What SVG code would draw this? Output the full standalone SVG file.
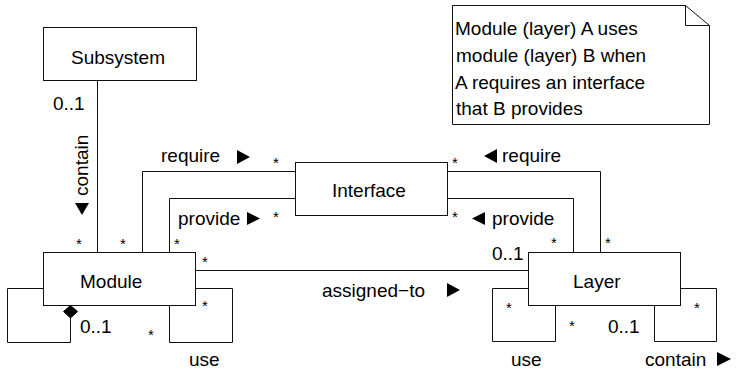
<svg xmlns="http://www.w3.org/2000/svg" width="737" height="370" viewBox="0 0 737 370">
<style>
  .box{fill:#fff;stroke:#111;stroke-width:1}
  .ln{fill:none;stroke:#111;stroke-width:1}
  text{font-family:"Liberation Sans",Arial,Helvetica,sans-serif;font-size:19px;fill:#000}
  .st{font-size:15px}
  .ar{fill:#000}
</style>
<rect width="737" height="370" fill="#fff"/>
<g id="connectors">
  <path class="ln" d="M97.5,81 V252"/>
  <path class="ln" d="M142.5,252 V171.5 H295"/>
  <path class="ln" d="M448,171.5 H600.5 V252"/>
  <path class="ln" d="M169.5,252 V198.5 H295"/>
  <path class="ln" d="M448,198.5 H573.5 V252"/>
  <path class="ln" d="M196,270.5 H528"/>
  <path class="ln" d="M43,288.5 H7.5 V342.5 H70.5 V318"/>
  <polygon points="70.5,305.5 77.5,311.5 70.5,318 63.5,311.5" fill="#000" stroke="#000" stroke-width="1"/>
  <path class="ln" d="M196,288.5 H232.5 V342.5 H169.5 V306"/>
  <path class="ln" d="M528,288.5 H492.5 V341.5 H555.5 V306"/>
  <path class="ln" d="M654.5,306 V341.5 H716.5 V288.5 H681"/>
  <!-- labels -->
  <text x="53" y="110">0..1</text>
  <text transform="translate(88,196) rotate(-90)">contain</text>
  <polygon class="ar" points="75,203 89,203 82,215"/>
  <text x="161" y="162">require</text>
  <polygon class="ar" points="237,150 250,157 237,164"/>
  <text x="178" y="225">provide</text>
  <polygon class="ar" points="247,212 260,218.5 247,225"/>
  <polygon class="ar" points="497,149 484,156 497,163"/>
  <text x="502" y="162">require</text>
  <polygon class="ar" points="485,212 472,218.5 485,225"/>
  <text x="492" y="225">provide</text>
  <text x="322" y="297">assigned−to</text>
  <polygon class="ar" points="447,283 460,290 447,297"/>
  <text x="492" y="260">0..1</text>
  <text x="80" y="333">0..1</text>
  <text x="608" y="333">0..1</text>
  <text x="189" y="366">use</text>
  <text x="511" y="366">use</text>
  <text x="645" y="366">contain</text>
  <polygon class="ar" points="717,352 731,359 717,366"/>
  <text class="st" x="76" y="249">*</text>
  <text class="st" x="120" y="249">*</text>
  <text class="st" x="174" y="249">*</text>
  <text class="st" x="202" y="267">*</text>
  <text class="st" x="202" y="311">*</text>
  <text class="st" x="148" y="340">*</text>
  <text class="st" x="273" y="168">*</text>
  <text class="st" x="273" y="222">*</text>
  <text class="st" x="452" y="168">*</text>
  <text class="st" x="452" y="222">*</text>
  <text class="st" x="551" y="248">*</text>
  <text class="st" x="605" y="248">*</text>
  <text class="st" x="506" y="313">*</text>
  <text class="st" x="569" y="331">*</text>
  <text class="st" x="694" y="313">*</text>
</g>
<g id="subsystem">
  <rect class="box" x="43.5" y="27.5" width="153" height="53"/>
  <text x="71" y="64">Subsystem</text>
</g>
<g id="interface">
  <rect class="box" x="295.5" y="162.5" width="152" height="53"/>
  <text x="332" y="197">Interface</text>
</g>
<g id="module">
  <rect class="box" x="43.5" y="252.5" width="152" height="53"/>
  <text x="80" y="288">Module</text>
</g>
<g id="layer">
  <rect class="box" x="528.5" y="252.5" width="152" height="53"/>
  <text x="573" y="288">Layer</text>
</g>
<g id="note">
  <polygon class="box" points="452.5,5.5 685.5,5.5 709.5,25.5 709.5,124.5 452.5,124.5"/>
  <path class="ln" d="M685.5,5.5 V25.5 H709.5"/>
  <text x="455" y="35">Module (layer) A uses</text>
  <text x="456" y="62">module (layer) B when</text>
  <text x="455" y="89">A requires an interface</text>
  <text x="456" y="115">that B provides</text>
</g>
</svg>
